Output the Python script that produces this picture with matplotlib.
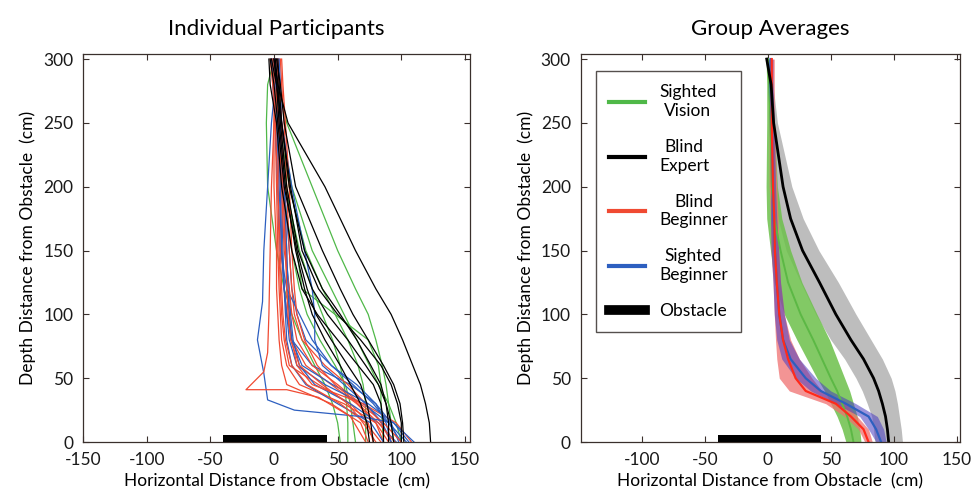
import matplotlib
matplotlib.use("Agg")
import matplotlib.pyplot as plt
from matplotlib.lines import Line2D
import numpy as np

plt.rcParams['font.family'] = ['Lato', 'DejaVu Sans']
plt.rcParams['axes.unicode_minus'] = False

# ---------------- data ----------------
depth_levels = [300, 280, 250, 200, 150, 120, 100, 80, 60, 45, 30, 15, 0]

black_trajs = [
    [0, 3, 11, 40, 64, 80, 92, 101, 109, 115, 119, 122, 123],
    [2, 5, 8, 17, 38, 52, 62, 74, 86, 94, 99, 101, 102],
    [-2, 2, 6, 13, 22, 35, 50, 68, 84, 92, 97, 100, 100],
    [1, 3, 5, 10, 19, 30, 42, 58, 72, 82, 88, 92, 94],
    [-3, 0, 3, 8, 18, 26, 33, 45, 58, 68, 73, 76, 78],
    [0, 2, 4, 9, 17, 24, 30, 40, 52, 60, 68, 73, 75],
    [3, 4, 6, 12, 24, 38, 52, 65, 76, 84, 88, 90, 90],
    [-4, -3, 2, 6, 14, 22, 34, 50, 66, 78, 84, 86, 86],
]
green_trajs = [
    [0, -5, -6, -5, 2, 8, 14, 22, 32, 40, 46, 50, 52],
    [2, 4, 10, 30, 50, 64, 74, 80, 85, 88, 90, 92, 94],
    [0, 2, 4, 10, 18, 22, 48, 74, 82, 84, 84, 85, 86],
    [-2, 0, 3, 9, 20, 30, 38, 46, 52, 55, 57, 58, 58],
    [1, 2, 4, 12, 25, 38, 48, 58, 66, 70, 72, 72, 72],
    [0, 2, 5, 14, 30, 45, 55, 65, 75, 82, 90, 96, 100],
    [-1, 1, 3, 7, 14, 20, 26, 36, 48, 56, 60, 62, 64],
]
red_trajs = [
    [0, 2, 3, 5, 6, 8, 10, 14, 25, 45, 65, 80, 86],
    [3, 5, 4, 3, 4, 5, 6, 8, 12, 35, 60, 74, 78],
    [-2, 0, 1, 2, 3, 4, 5, 6, 10, 20, 55, 80, 90],
    [5, 6, 8, 10, 12, 14, 16, 22, 40, 58, 72, 84, 92],
    [1, 3, 6, 8, 10, 10, 12, 14, 18, 30, 70, 96, 108],
    [4, 2, 0, 0, 2, 2, 3, 4, 6, 10, 45, 68, 74],
    [-1, 1, 4, 6, 8, 12, 14, 18, 30, 50, 68, 86, 100],
    [2, 4, 6, 7, 9, 10, 11, 13, 20, 38, 58, 70, 80],
    [6, 7, 9, 12, 14, 16, 18, 24, 34, 48, 66, 82, 95],
    [-3, -1, 1, 3, 5, 6, 7, 9, 14, 26, 52, 72, 84],
]
red_odd_depth = [300, 250, 200, 150, 100, 70, 55, 41, 41, 35, 20, 0]
red_odd_x = [0, 0, -2, -3, -4, -5, -8, -22, 10, 35, 60, 72]

blue_trajs = [
    [2, 4, 5, 6, 7, 8, 10, 14, 30, 60, 80, 92, 98],
    [-1, 0, 2, 4, 6, 8, 10, 12, 18, 40, 70, 90, 104],
    [1, 2, 4, 8, 12, 14, 18, 25, 45, 65, 80, 88, 92],
    [3, 3, 5, 7, 9, 12, 13, 15, 20, 32, 60, 82, 96],
    [0, 2, 3, 5, 6, 8, 9, 10, 14, 25, 50, 76, 86],
    [-2, -1, 1, 3, 5, 10, 20, 30, 45, 62, 78, 90, 100],
    [1, 3, 6, 14, 24, 30, 32, 32, 38, 55, 72, 85, 92],
    [4, 5, 6, 8, 10, 11, 12, 14, 22, 46, 74, 94, 106],
]
blue_odd_depth = [300, 280, 250, 200, 150, 110, 80, 54, 33, 25, 20, 15, 0]
blue_odd_x = [0, 1, -2, -5, -8, -9, -13, -8, -5, 16, 68, 94, 110]

avg_depth = [300, 280, 250, 200, 175, 150, 125, 100, 80, 65, 50, 40, 30, 20, 10, 0]
expert_mean = [-1, 2.5, 4.5, 12, 18, 27.5, 41, 54, 66, 76, 84, 88, 91, 93.5, 95, 96]
expert_sd = [1, 1.5, 3, 7, 10, 13, 15, 16, 16, 15, 14, 13, 12, 11, 11, 11]
vision_mean = [0, 1, 2, 3, 5, 10, 16, 26, 36, 43, 50, 55, 59, 63, 66, 68]
vision_sd = [1.5, 2, 3, 4.5, 6, 8, 11, 13, 13, 12, 11, 10, 9, 8, 7, 6]
blind_beg_mean = [3, 3, 3, 4, 5, 5.5, 7, 9, 12, 16, 22, 30, 54, 66, 76, 80]
blind_beg_sd = [2, 2, 2, 3, 3, 3, 3, 4, 6, 9, 13, 13, 8, 5, 4, 3]
sighted_beg_mean = [2, 2, 3, 4, 4.5, 5.5, 7, 9, 12, 18, 30, 42, 62, 80, 86, 90]
sighted_beg_sd = [2, 2, 2, 2, 2.5, 3, 3, 4, 5, 7, 8, 8, 8, 7, 6, 4]

legend_labels = ["Sighted\nVision", "Blind\nExpert", "Blind\nBeginner", "Sighted\nBeginner", "Obstacle"]
obstacle_x = [-40, 42]
obstacle_h = 5.5

# ---------------- styles ----------------
C_GREEN = "#4fb848"
C_BLACK = "#000000"
C_RED = "#f04a32"
C_BLUE = "#2d5fc0"
SPINE = "#3a302c"
FS_TICK = 12.5
FS_LAB = 12.5

fig = plt.figure(figsize=(9.71, 4.95), dpi=100)
ax1 = fig.add_axes([0.0855, 0.107, 0.3986, 0.784])
ax2 = fig.add_axes([0.598, 0.107, 0.391, 0.784])

def style(ax, xticks):
    ax.set_ylim(0, 304)
    ax.set_yticks([0, 50, 100, 150, 200, 250, 300])
    ax.set_xticks(xticks)
    ax.tick_params(direction='in', top=True, right=True, length=4, width=0.8,
                   labelsize=FS_TICK, colors=SPINE, labelcolor='#1a1a1a')
    ax.tick_params(axis='y', pad=7)
    ax.tick_params(axis='x', pad=7)
    for s in ax.spines.values():
        s.set_color(SPINE)
        s.set_linewidth(0.9)
    ax.set_xlabel("Horizontal Distance from Obstacle  (cm)", fontsize=FS_LAB, labelpad=4)
    ax.set_ylabel("Depth Distance from Obstacle  (cm)", fontsize=FS_LAB, labelpad=5)

# left panel
lw = 0.9
for tr in green_trajs:
    ax1.plot(tr, depth_levels, color=C_GREEN, lw=lw)
for i in range(max(len(red_trajs), len(blue_trajs))):
    if i < len(blue_trajs):
        ax1.plot(blue_trajs[i], depth_levels, color=C_BLUE, lw=lw)
    if i < len(red_trajs):
        ax1.plot(red_trajs[i], depth_levels, color=C_RED, lw=lw)
ax1.plot(blue_odd_x, blue_odd_depth, color=C_BLUE, lw=lw)
ax1.plot(red_odd_x, red_odd_depth, color=C_RED, lw=lw)
for tr in black_trajs:
    ax1.plot(tr, depth_levels, color=C_BLACK, lw=lw)
ax1.fill_between(obstacle_x, 0, obstacle_h, color='black', lw=0, zorder=5)
ax1.set_xlim(-150, 154)
style(ax1, [-150, -100, -50, 0, 50, 100, 150])
ax1.set_title("Individual Participants", fontsize=16, pad=14)

# right panel
def band(ax, mean, sd, color, alpha):
    m = np.array(mean, float); s = np.array(sd, float)
    ax.fill_betweenx(avg_depth, m - s, m + s, color=color, alpha=alpha, lw=0)

band(ax2, expert_mean, expert_sd, "#bdbdbd", 1.0)
band(ax2, vision_mean, vision_sd, "#6cc04a", 0.85)
band(ax2, blind_beg_mean, blind_beg_sd, "#f07070", 0.75)
band(ax2, sighted_beg_mean, sighted_beg_sd, "#4a3cc0", 0.55)
ax2.plot(vision_mean, avg_depth, color="#5cb845", lw=1.4)
ax2.plot(sighted_beg_mean, avg_depth, color=C_BLUE, lw=1.6)
ax2.plot(blind_beg_mean, avg_depth, color="#ff2a1a", lw=1.6)
ax2.plot(expert_mean, avg_depth, color=C_BLACK, lw=2.0)
ax2.fill_between(obstacle_x, 0, obstacle_h, color='black', lw=0, zorder=5)
ax2.set_xlim(-149, 153)
style(ax2, [-100, -50, 0, 50, 100, 150])
ax2.set_title("Group Averages", fontsize=16, pad=14)

handles = [Line2D([], [], color=C_GREEN, lw=3),
           Line2D([], [], color=C_BLACK, lw=3),
           Line2D([], [], color=C_RED, lw=3),
           Line2D([], [], color=C_BLUE, lw=3),
           Line2D([], [], color=C_BLACK, lw=7)]
leg = ax2.legend(handles, legend_labels, loc='upper left', bbox_to_anchor=(0.04, 0.955),
                 fontsize=12.5, frameon=True, fancybox=False, edgecolor='#2a2420',
                 handlelength=2.1, handletextpad=0.8, labelspacing=1.15,
                 borderpad=0.75, borderaxespad=0)
leg.get_frame().set_linewidth(1.0)
for t in leg.get_texts():
    t.set_multialignment('center')

fig.savefig("out.png", dpi=100, facecolor='white')
